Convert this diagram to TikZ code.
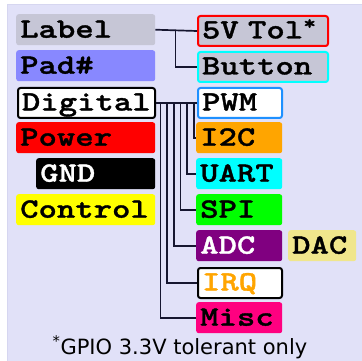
\documentclass[tikz,border=0pt]{standalone}
\usepackage{fontspec}
\newfontfamily\boxfont{lmmonolt10-bold}[Extension=.otf, FakeStretch=1.25, FakeBold=1.2]
\newfontfamily\notefont{DejaVu Sans}
\definecolor{bgc}{HTML}{E1E1F8}
\definecolor{bgline}{HTML}{D6D6F0}
\definecolor{lblgrey}{HTML}{C6C6D6}
\definecolor{padblue}{HTML}{8888FF}
\definecolor{pwmblue}{HTML}{1E90FF}
\definecolor{conn}{HTML}{161630}
\definecolor{pred}{HTML}{FF0000}
\definecolor{pcyan}{HTML}{00FFFF}
\definecolor{pgreen}{HTML}{00FF00}
\definecolor{pyellow}{HTML}{FFFF00}
\definecolor{pblack}{HTML}{000000}
\definecolor{pwhite}{HTML}{FFFFFF}
\definecolor{i2corange}{HTML}{FFA500}
\definecolor{adcpurple}{HTML}{800080}
\definecolor{dackhaki}{HTML}{F0E68C}
\definecolor{miscpink}{HTML}{FF0080}
\begin{document}
\begin{tikzpicture}[x=1pt,y=-1pt,
  pin/.style={anchor=north west, rounded corners=2.5pt, inner xsep=4pt, inner ysep=0pt,
    text height=23.5pt, text depth=7.5pt, align=left,
    font=\boxfont\fontsize{28}{28}\selectfont},
  bpin/.style={pin, draw, line width=2pt, text height=22.5pt, text depth=7.5pt},
  wl/.style={text width=131pt},
  wlb/.style={text width=129pt},
  wg/.style={text width=111pt},
  wr/.style={text width=122pt},
  wp/.style={text width=78pt},
  wpb/.style={text width=76pt},
  wd/.style={text width=60pt},
  cline/.style={draw=conn, line width=1.7pt}
]
\useasboundingbox (0,0) rectangle (362,361);
\fill[bgc] (7,4) rectangle (362,361);
\draw[bgline, line width=0.8pt] (7.4,361) -- (7.4,4.4) -- (362,4.4);

% left column
\node[pin, wl, fill=lblgrey] (label) at (16,14) {Label};
\node[pin, wl, fill=padblue] (pad) at (16,50) {Pad\#};
\node[bpin, wlb, fill=pwhite, draw=pblack] (digital) at (17,87) {Digital};
\node[pin, wl, fill=pred] (power) at (16,122) {Power};
\node[pin, wg, fill=pblack, text=pwhite] (gnd) at (36,158) {GND};
\node[pin, wl, fill=pyellow] (control) at (16,194) {Control};

% right column
\node[bpin, wr, fill=lblgrey, draw=pred] (tol) at (197,15) {5V Tol\textsuperscript{*}};
\node[bpin, wr, fill=lblgrey, draw=pcyan] (button) at (197,51) {Button};
\node[bpin, wpb, fill=pwhite, draw=pwmblue] (pwm) at (197,87) {PWM};
\node[pin, wp, fill=i2corange] (i2c) at (196,122) {I2C};
\node[pin, wp, fill=pcyan] (uart) at (196,158) {UART};
\node[pin, wp, fill=pgreen] (spi) at (196,194) {SPI};
\node[pin, wp, fill=adcpurple, text=pwhite] (adc) at (196,230) {ADC};
\node[pin, wd, fill=dackhaki] (dac) at (288,230) {DAC};
\node[bpin, wpb, fill=pwhite, draw=pblack, text=i2corange] (irq) at (197,267) {IRQ};
\node[pin, wp, fill=miscpink] (misc) at (196,302) {Misc};

% connectors
\draw[cline] (label.east) -- (tol.west);
\draw[cline] ([xshift=20pt]label.east) |- (button.west);
\draw[cline] (digital.east) -- (pwm.west);
\draw[cline] ([xshift=37.8pt]digital.east) |- (i2c.west);
\draw[cline] ([xshift=31.2pt]digital.east) |- (uart.west);
\draw[cline] ([xshift=24.5pt]digital.east) |- (spi.west);
\draw[cline] ([xshift=17.8pt]digital.east) |- (adc.west);
\draw[cline] ([xshift=11.2pt]digital.east) |- (irq.west);
\draw[cline] ([xshift=4.5pt]digital.east) |- (misc.west);

% footnote
\node[anchor=base, inner sep=0pt, font=\notefont\fontsize{21}{25}\selectfont] (note) at (180,354) {\textsuperscript{*}GPIO 3.3V tolerant only};
\end{tikzpicture}
\end{document}
